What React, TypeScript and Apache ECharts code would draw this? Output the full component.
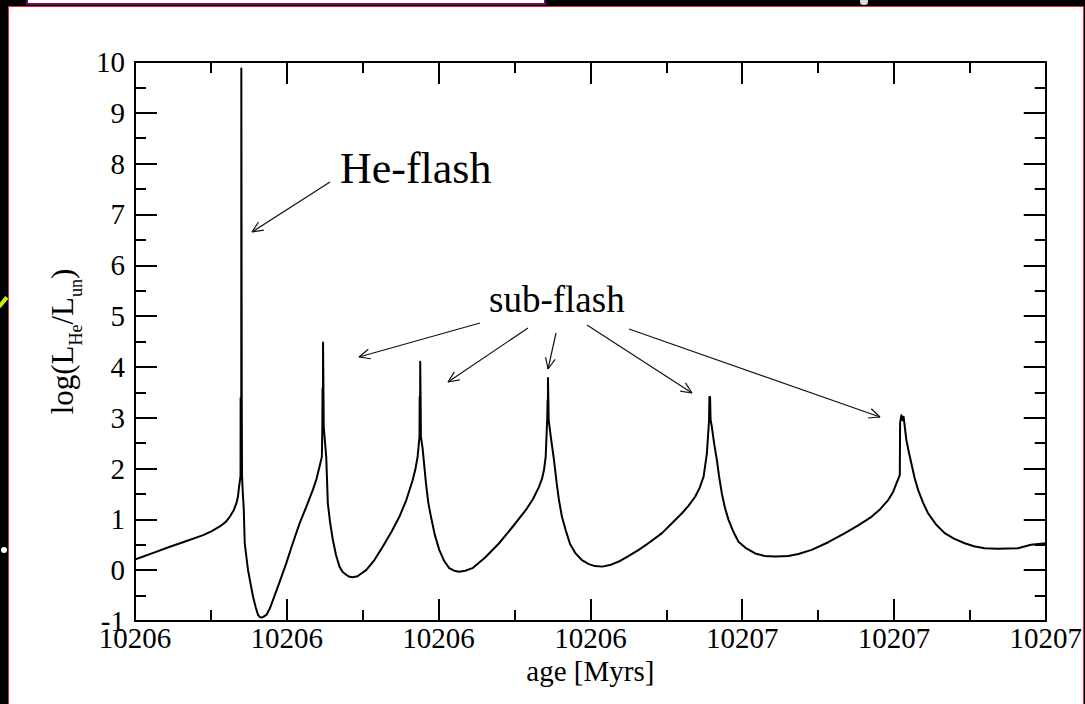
import React, { useEffect, useRef } from "react";
import * as echarts from "echarts";

// ---- axis definitions ----
const X_MIN = 10206.1;
const X_MAX = 10206.7;
const X_STEP = 0.1;
const xTickLabels = ["10206", "10206", "10206", "10206", "10207", "10207", "10207"];
const Y_MIN = -1;
const Y_MAX = 10;
const Y_STEP = 1;

// ---- data: age [Myrs] vs log(L_He/L_un) ----
const ages = [
  10206.1, 10206.11203, 10206.123, 10206.13352, 10206.14489, 10206.1506, 10206.15586, 10206.1598,
  10206.16243, 10206.16506, 10206.16683, 10206.16789, 10206.16854, 10206.16953, 10206.16959, 10206.16999,
  10206.17005, 10206.17032, 10206.17051, 10206.17097, 10206.17163, 10206.17229, 10206.17446, 10206.17774,
  10206.17952, 10206.18103, 10206.18215, 10206.18326, 10206.18445, 10206.18655, 10206.18872, 10206.19089,
  10206.19529, 10206.19969, 10206.20383, 10206.20843, 10206.21303, 10206.21717, 10206.21961, 10206.22158,
  10206.22309, 10206.22342, 10206.22355, 10206.22381, 10206.22388, 10206.22414, 10206.22434, 10206.22598,
  10206.22703, 10206.22848, 10206.23032, 10206.23242, 10206.23472, 10206.23669, 10206.23912, 10206.24129,
  10206.24346, 10206.24655, 10206.25227, 10206.25772, 10206.26318, 10206.26889, 10206.27415, 10206.27875,
  10206.28289, 10206.28467, 10206.28618, 10206.28743, 10206.28756, 10206.28782, 10206.28789, 10206.28815,
  10206.28835, 10206.28946, 10206.2917, 10206.29321, 10206.29498, 10206.29748, 10206.30044, 10206.30372,
  10206.30701, 10206.31029, 10206.31358, 10206.31752, 10206.32232, 10206.33067, 10206.33987, 10206.34841,
  10206.35741, 10206.36221, 10206.36615, 10206.36813, 10206.36944, 10206.37056, 10206.37161, 10206.37181,
  10206.372, 10206.37207, 10206.37233, 10206.37253, 10206.37404, 10206.37601, 10206.37765, 10206.3793,
  10206.38127, 10206.3837, 10206.38653, 10206.39027, 10206.39441, 10206.39901, 10206.40296, 10206.40775,
  10206.41281, 10206.41873, 10206.4253, 10206.43187, 10206.4391, 10206.44718, 10206.45356, 10206.46033,
  10206.46473, 10206.46913, 10206.47196, 10206.47459, 10206.47676, 10206.4782, 10206.4784, 10206.47866,
  10206.47886, 10206.47919, 10206.48004, 10206.48149, 10206.48333, 10206.48477, 10206.48661, 10206.48872,
  10206.49102, 10206.4943, 10206.49759, 10206.50219, 10206.50856, 10206.51467, 10206.52171, 10206.53045,
  10206.53702, 10206.54576, 10206.55673, 10206.56771, 10206.57645, 10206.58519, 10206.59091, 10206.59616,
  10206.59945, 10206.60162, 10206.60385, 10206.60405, 10206.6049, 10206.60569, 10206.60635, 10206.60819,
  10206.60996, 10206.61148, 10206.61358, 10206.61588, 10206.61916, 10206.62245, 10206.62771, 10206.63343,
  10206.63954, 10206.64657, 10206.65268, 10206.65971, 10206.66845, 10206.6816, 10206.69034, 10206.7,
];
const logL = [
  0.21, 0.34, 0.46, 0.57, 0.69, 0.77, 0.86, 0.95,
  1.05, 1.18, 1.32, 1.46, 1.64, 1.85, 3.39, 1.9,
  9.87, 3.39, 1.85, 1.55, 1.22, 0.53, 0.0, -0.52,
  -0.73, -0.88, -0.92, -0.93, -0.92, -0.88, -0.76, -0.59,
  -0.23, 0.14, 0.52, 0.92, 1.26, 1.58, 1.8, 2.04,
  2.23, 2.82, 3.58, 2.9, 4.48, 3.58, 2.82, 2.23,
  1.32, 0.95, 0.6, 0.3, 0.07, -0.03, -0.09, -0.13,
  -0.14, -0.12, 0.0, 0.2, 0.46, 0.75, 1.05, 1.38,
  1.77, 1.98, 2.23, 2.63, 3.41, 2.7, 4.1, 3.41,
  2.63, 2.4, 1.71, 1.33, 1.05, 0.7, 0.4, 0.18,
  0.04, -0.01, -0.03, -0.01, 0.04, 0.25, 0.53, 0.84,
  1.18, 1.4, 1.64, 1.8, 1.97, 2.23, 3.02, 3.35,
  3.0, 3.78, 3.35, 2.96, 2.6, 2.17, 1.75, 1.38,
  1.05, 0.79, 0.52, 0.33, 0.2, 0.12, 0.08, 0.07,
  0.1, 0.17, 0.28, 0.4, 0.55, 0.73, 0.92, 1.12,
  1.27, 1.45, 1.62, 1.84, 2.3, 2.96, 3.41, 2.96,
  3.41, 2.96, 2.82, 2.5, 2.17, 1.85, 1.51, 1.22,
  0.99, 0.75, 0.56, 0.44, 0.33, 0.28, 0.27, 0.28,
  0.32, 0.4, 0.55, 0.73, 0.88, 1.05, 1.2, 1.38,
  1.54, 1.71, 1.87, 2.9, 3.05, 2.95, 3.02, 2.56,
  2.3, 2.1, 1.82, 1.58, 1.33, 1.12, 0.9, 0.73,
  0.62, 0.53, 0.47, 0.43, 0.42, 0.43, 0.5, 0.53,
];

// ---- annotation texts ----
const heFlashLabel = "He-flash";
const subFlashLabel = "sub-flash";

const FONT = "'Liberation Serif', 'Times New Roman', Times, serif";

// arrow layout (pixels): [fromX, fromY, toX, toY]
const arrowLayout = [
  [330, 182, 252, 232],
  [480, 323, 359, 357],
  [528, 328, 448, 382],
  [556, 333, 548, 369],
  [587, 325, 692, 393],
  [629, 329, 880, 417],
];

function arrowElements() {
  const els: any[] = [];
  const L = 12;
  const a = 0.42;
  arrowLayout.forEach(([x1, y1, x2, y2]) => {
    const style = { stroke: "#111", lineWidth: 1.2 };
    els.push({ type: "line", shape: { x1, y1, x2, y2 }, style, silent: true });
    const ang = Math.atan2(y2 - y1, x2 - x1);
    [ang + a, ang - a].forEach((t) => {
      els.push({
        type: "line",
        shape: { x1: x2, y1: y2, x2: x2 - L * Math.cos(t), y2: y2 - L * Math.sin(t) },
        style,
        silent: true,
      });
    });
  });
  return els;
}

const axisCommon = {
  axisLine: { show: true, onZero: false, lineStyle: { color: "#000", width: 2 } },
  axisTick: { show: true, inside: true, length: 22, lineStyle: { color: "#000", width: 2 } },
  minorTick: { show: true, splitNumber: 2, length: 11, lineStyle: { color: "#000", width: 2 } },
  splitLine: { show: false },
  minorSplitLine: { show: false },
};

export default function App() {
  const ref = useRef<HTMLDivElement>(null);
  useEffect(() => {
    if (!ref.current) return;
    const chart = echarts.init(ref.current, undefined, { renderer: "svg" });
    const seriesData = ages.map((a, i) => [a, logL[i]]);
    chart.setOption({
      animation: false,
      backgroundColor: "transparent",
      grid: { left: 135, top: 62, width: 913, height: 559, containLabel: false },
      xAxis: [
        {
          type: "value",
          position: "bottom",
          min: X_MIN,
          max: X_MAX,
          interval: X_STEP,
          ...axisCommon,
          axisLabel: {
            show: true,
            margin: 2,
            color: "#000",
            fontSize: 29,
            fontFamily: FONT,
            formatter: (v: number) => xTickLabels[Math.round((v - X_MIN) / X_STEP)] ?? "",
          },
          name: "age [Myrs]",
          nameLocation: "middle",
          nameGap: 22,
          nameTextStyle: { color: "#000", fontSize: 29, fontFamily: FONT },
        },
        {
          type: "value",
          position: "top",
          min: X_MIN,
          max: X_MAX,
          interval: X_STEP,
          ...axisCommon,
          axisLabel: { show: false },
        },
      ],
      yAxis: [
        {
          type: "value",
          position: "left",
          min: Y_MIN,
          max: Y_MAX,
          interval: Y_STEP,
          ...axisCommon,
          axisLabel: { show: true, margin: 10, color: "#000", fontSize: 29, fontFamily: FONT },
          name: "{m|log(L}{s|He}{m|/L}{s|un}{m|)}",
          nameLocation: "middle",
          nameRotate: 90,
          nameGap: 50,
          nameTextStyle: {
            rich: {
              m: { fontSize: 31, fontFamily: FONT, color: "#000" },
              s: { fontSize: 18, fontFamily: FONT, color: "#000", padding: [28, 0, 0, 0] },
            },
          },
        },
        {
          type: "value",
          position: "right",
          min: Y_MIN,
          max: Y_MAX,
          interval: Y_STEP,
          ...axisCommon,
          axisLabel: { show: false },
        },
      ],
      series: [
        {
          type: "line",
          xAxisIndex: 0,
          yAxisIndex: 0,
          data: seriesData,
          showSymbol: false,
          symbol: "none",
          silent: true,
          lineStyle: { color: "#000", width: 2, join: "round" },
        },
      ],
      graphic: [
        {
          type: "text",
          x: 340,
          y: 168,
          silent: true,
          style: { text: heFlashLabel, fontSize: 44, fontFamily: FONT, fill: "#000", align: "left", verticalAlign: "middle" },
        },
        {
          type: "text",
          x: 489,
          y: 299,
          silent: true,
          style: { text: subFlashLabel, fontSize: 37, fontFamily: FONT, fill: "#000", align: "left", verticalAlign: "middle" },
        },
        ...arrowElements(),
      ],
    });
    return () => chart.dispose();
  }, []);

  return (
    <div style={{ position: "fixed", left: 0, top: 0, width: 1085, height: 704, background: "#000", overflow: "hidden" }}>
      <div style={{ position: "absolute", left: 26, top: -4, width: 520, height: 9, background: "#fff", border: "2px solid #6a0a6a", boxSizing: "border-box" }} />
      <div style={{ position: "absolute", left: 8, top: 6, width: 1076, height: 700, background: "#fff", border: "1px solid #e0303c", boxSizing: "border-box" }} />
      <div style={{ position: "absolute", left: -3, top: 300, width: 12, height: 4, background: "#c8f000", transform: "rotate(-50deg)" }} />
      <div style={{ position: "absolute", left: 1, top: 547, width: 6, height: 6, borderRadius: 3, background: "#fff" }} />
      <div style={{ position: "absolute", left: 860, top: -2, width: 8, height: 7, borderRadius: 4, background: "#ddd" }} />
      <div ref={ref} style={{ position: "absolute", left: 0, top: 0, width: 1085, height: 704 }} />
    </div>
  );
}
